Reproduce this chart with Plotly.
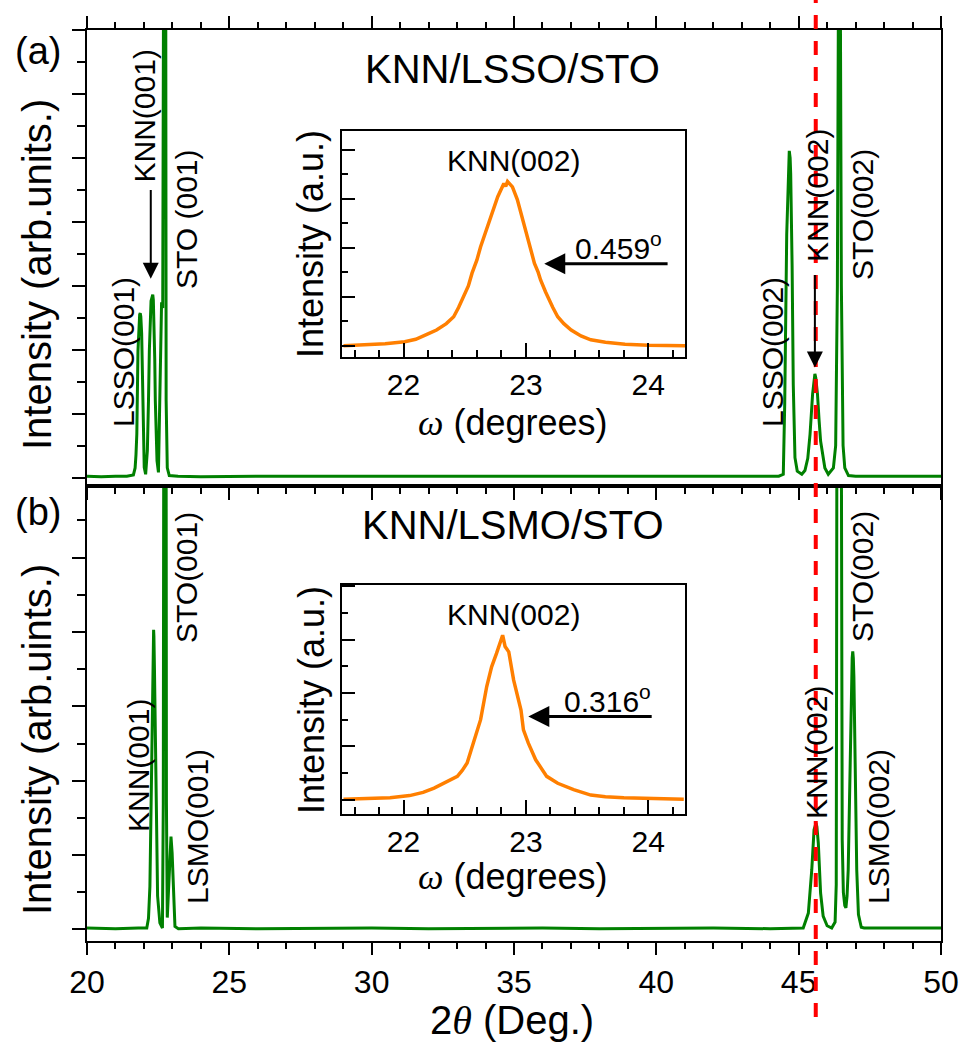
import plotly.graph_objects as go

W, H = 961, 1055

# ---------------- data ----------------
# Panel (a): KNN/LSSO/STO  2theta scan
tt_a = [20.0, 20.5, 21.0, 21.4, 21.63, 21.69, 21.72, 21.75, 21.79, 21.83, 21.85, 21.87, 21.89,
        21.92, 21.94, 21.96, 22.01, 22.06, 22.12, 22.16, 22.19, 22.25, 22.28, 22.31, 22.33,
        22.35, 22.38, 22.40, 22.46, 22.51, 22.56, 22.60, 22.62, 22.66, 22.69, 22.72, 22.75,
        22.78, 22.82, 22.89, 23.2, 24.0, 26.0, 28.0, 30.0, 32.0, 34.0, 36.0, 38.0, 40.0,
        42.0, 43.5, 44.3, 44.46, 44.51, 44.58, 44.64, 44.67, 44.70, 44.72, 44.77, 44.81,
        44.87, 44.95, 45.11, 45.22, 45.32, 45.40, 45.49, 45.54, 45.57, 45.60, 45.66, 45.72,
        45.77, 45.92, 46.04, 46.22, 46.30, 46.36, 46.40, 46.43, 46.46, 46.50, 46.56, 46.62,
        46.75, 47.0, 48.0, 49.0, 50.0]
int_a = [0.02, 0.01, 0.02, 0.02, 0.04, 0.15, 0.35, 0.68, 1.98, 2.46, 2.55, 2.57, 2.52,
         2.25, 1.65, 0.94, 0.16, 0.05, 0.42, 1.20, 1.98, 2.76, 2.84, 2.86, 2.78,
         2.50, 1.85, 1.20, 0.26, 0.08, 1.20, 2.50, 2.74, 2.65, 8.0, 30.0, 8.0,
         1.2, 0.15, 0.03, 0.02, 0.01, 0.02, 0.02, 0.01, 0.02, 0.02, 0.01, 0.02, 0.02,
         0.01, 0.02, 0.02, 0.05, 1.15, 3.8, 4.95, 5.11, 5.0, 4.75, 3.3, 1.46,
         0.31, 0.10, 0.05, 0.11, 0.30, 0.68, 1.31, 1.56, 1.62, 1.56, 1.31, 0.88,
         0.57, 0.15, 0.05, 0.15, 0.5, 3.0, 8.0, 30.0, 8.0, 3.0, 0.5, 0.15,
         0.03, 0.02, 0.02, 0.01, 0.02]

# Panel (b): KNN/LSMO/STO  2theta scan
tt_b = [20.0, 21.0, 21.8, 22.10, 22.16, 22.21, 22.27, 22.31, 22.33, 22.34, 22.35, 22.37,
        22.42, 22.45, 22.48, 22.56, 22.65, 22.68, 22.70, 22.73, 22.76, 22.79, 22.82, 22.87,
        22.92, 22.95, 22.99, 23.04, 23.09, 23.21, 24.0, 26.0, 28.0, 30.0, 32.0, 34.0, 36.0,
        38.0, 40.0, 42.0, 44.0, 45.16, 45.34, 45.46, 45.54, 45.58, 45.61, 45.64, 45.69,
        45.77, 45.86, 46.00, 46.16, 46.28, 46.32, 46.33, 46.34, 46.42, 46.50, 46.51, 46.53,
        46.57, 46.62, 46.66, 46.70, 46.74, 46.80, 46.86, 46.88, 46.90, 46.92, 46.94, 46.98,
        47.04, 47.10, 47.20, 47.3, 48.0, 49.0, 50.0]
int_b = [0.02, 0.01, 0.02, 0.02, 0.15, 0.58, 2.15, 3.49, 3.95, 4.03, 3.95, 3.49,
         1.70, 0.95, 0.45, 0.09, 0.02, 1.7, 8.0, 30.0, 8.0, 1.7, 0.16, 0.58,
         1.16, 1.25, 1.03, 0.36, 0.04, 0.01, 0.02, 0.01, 0.02, 0.02, 0.01, 0.02, 0.02,
         0.01, 0.02, 0.02, 0.01, 0.02, 0.22, 0.80, 1.34, 1.42, 1.43, 1.38, 1.16,
         0.49, 0.18, 0.05, 0.02, 0.1, 0.6, 3.0, 6.5, 30.0, 6.5, 3.0, 1.2,
         0.5, 0.32, 0.29, 0.45, 0.8, 2.2, 3.4, 3.65, 3.74, 3.65, 3.4, 2.2,
         0.8, 0.2, 0.03, 0.02, 0.02, 0.01, 0.02]

# Inset (a): rocking curve of KNN(002)
om_a = [21.51, 21.7, 21.85, 22.01, 22.10, 22.20, 22.27, 22.35, 22.41, 22.45, 22.49, 22.53,
        22.56, 22.60, 22.63, 22.67, 22.71, 22.74, 22.77, 22.82, 22.835, 22.85, 22.89, 22.93,
        22.96, 22.99, 23.01, 23.04, 23.07, 23.10, 23.12, 23.16, 23.19, 23.22, 23.26, 23.31,
        23.37, 23.45, 23.53, 23.65, 23.81, 24.0, 24.3]
rc_a = [0.0, 0.02, 0.04, 0.08, 0.13, 0.24, 0.32, 0.45, 0.59, 0.78, 1.0, 1.22,
        1.48, 1.75, 2.02, 2.30, 2.57, 2.82, 3.04, 3.31, 3.25, 3.35, 3.24, 2.98,
        2.70, 2.45, 2.22, 1.95, 1.68, 1.50, 1.34, 1.10, 0.93, 0.78, 0.59, 0.45,
        0.32, 0.2, 0.12, 0.07, 0.03, 0.01, 0.0]

# Inset (b): rocking curve of KNN(002)
om_b = [21.51, 21.7, 21.89, 22.05, 22.16, 22.25, 22.33, 22.44, 22.48, 22.52, 22.57, 22.60,
        22.63, 22.68, 22.72, 22.76, 22.79, 22.81, 22.83, 22.86, 22.90, 22.96, 22.98, 23.02,
        23.08, 23.12, 23.17, 23.26, 23.32, 23.39, 23.53, 23.65, 23.80, 24.29]
rc_b = [0.01, 0.02, 0.04, 0.08, 0.14, 0.22, 0.31, 0.44, 0.55, 0.69, 1.06, 1.28,
        1.50, 2.12, 2.49, 2.74, 2.93, 3.08, 2.87, 2.77, 2.24, 1.68, 1.31, 1.06,
        0.75, 0.62, 0.44, 0.31, 0.25, 0.19, 0.09, 0.06, 0.04, 0.01]

x_ticks_main = [20, 25, 30, 35, 40, 45, 50]
x_ticks_inset = [22, 23, 24]
fwhm_a = "0.459"
fwhm_b = "0.316"
knn002_line = 45.6

# ---------------- helpers ----------------
def px(x):
    return x / W

def py(y):
    return 1 - y / H

FONT = "Liberation Sans, Arial, sans-serif"
SERIF = "Liberation Serif"
GREEN = "rgb(0,128,0)"
ORANGE = "rgb(255,127,0)"

fig = go.Figure()
fig.add_trace(go.Scatter(x=tt_b, y=int_b, mode="lines", line=dict(color=GREEN, width=3),
                         xaxis="x", yaxis="y", showlegend=False))
fig.add_trace(go.Scatter(x=tt_a, y=int_a, mode="lines", line=dict(color=GREEN, width=3),
                         xaxis="x2", yaxis="y2", showlegend=False))
fig.add_trace(go.Scatter(x=om_a, y=rc_a, mode="lines", line=dict(color=ORANGE, width=3.5),
                         xaxis="x3", yaxis="y3", showlegend=False))
fig.add_trace(go.Scatter(x=om_b, y=rc_b, mode="lines", line=dict(color=ORANGE, width=3.5),
                         xaxis="x4", yaxis="y4", showlegend=False))

xdom = [px(87), px(941)]
common_ax = dict(showgrid=False, zeroline=False, showline=True, linecolor="black",
                 linewidth=2, tickcolor="black", tickwidth=2, automargin=False)

main_x = dict(common_ax, range=[20, 50], tickvals=x_ticks_main, ticks="outside",
              ticklen=12, minor=dict(dtick=1, ticks="outside", ticklen=6,
                                     tickcolor="black", tickwidth=2),
              domain=xdom)
inset_x = dict(common_ax, range=[21.5, 24.3], tickvals=x_ticks_inset, ticks="inside",
               ticklen=14, minor=dict(dtick=0.2, tick0=0, ticks="inside", ticklen=7,
                                      tickcolor="black", tickwidth=2),
               domain=[px(342.3), px(685)], mirror=True,
               tickfont=dict(size=30, color="black", family=FONT))

fig.update_layout(
    template="none",
    width=W, height=H, margin=dict(l=0, r=0, t=0, b=0, pad=0, autoexpand=False),
    paper_bgcolor="white", plot_bgcolor="rgba(0,0,0,0)",
    font=dict(family=FONT, color="black"),
    showlegend=False,
    xaxis=dict(main_x, anchor="y", mirror=True, showticklabels=True,
               tickfont=dict(size=32, color="black", family=FONT)),
    yaxis=dict(common_ax, range=[-0.155, 5.97], dtick=1, tick0=0, ticks="outside",
               ticklen=13, minor=dict(dtick=0.5, ticks="outside", ticklen=8,
                                      tickcolor="black", tickwidth=2),
               showticklabels=False, mirror=True,
               domain=[py(941), py(485.5)], anchor="x"),
    xaxis2=dict(main_x, anchor="y2", mirror="ticks", showticklabels=False, matches="x"),
    yaxis2=dict(common_ax, range=[-0.125, 7.0], dtick=1, tick0=0, ticks="outside",
                ticklen=13, minor=dict(dtick=0.5, ticks="outside", ticklen=8,
                                       tickcolor="black", tickwidth=2),
                showticklabels=False, mirror=True,
                domain=[py(485.5), py(30)], anchor="x2"),
    xaxis3=dict(inset_x, anchor="y3"),
    yaxis3=dict(common_ax, range=[-0.237, 4.38], dtick=1, tick0=0, ticks="inside",
                ticklen=13, minor=dict(dtick=0.5, ticks="inside", ticklen=6,
                                       tickcolor="black", tickwidth=2),
                showticklabels=False, mirror=True,
                domain=[py(357.3), py(131)], anchor="x3"),
    xaxis4=dict(inset_x, anchor="y4"),
    yaxis4=dict(common_ax, range=[-0.27, 4.02], dtick=1, tick0=0, ticks="inside",
                ticklen=13, minor=dict(dtick=0.5, ticks="inside", ticklen=6,
                                       tickcolor="black", tickwidth=2),
                showticklabels=False, mirror=True,
                domain=[py(814.3), py(585)], anchor="x4"),
)

# red dashed reference line through KNN(002)
fig.add_shape(type="line", xref="x", yref="paper", x0=knn002_line, x1=knn002_line,
              y0=py(1017), y1=1.0, line=dict(color="red", width=4, dash="14px,12px"),
              layer="above")

ann = []

def text(x, y, s, size, angle=0, **kw):
    ann.append(dict(x=px(x), y=py(y), xref="paper", yref="paper", text=s,
                    showarrow=False, textangle=angle, xanchor="center", yanchor="middle",
                    font=dict(size=size, color="black", family=FONT), **kw))

# panel labels and titles
text(37.5, 51, "(a)", 38)
text(37.5, 512, "(b)", 38)
text(512.5, 69, "KNN/LSSO/STO", 40)
text(512.5, 525, "KNN/LSMO/STO", 40)
text(37, 275, "Intensity (arb.units.)", 40, -90)
text(37, 740, "Intensity (arb.uints.)", 40, -90)
text(512, 1020, "2<span style='font-family:%s'><i>θ</i></span> (Deg.)" % SERIF, 40)

# peak labels panel (a)
text(123, 352, "LSSO(001)", 30, -90)
text(143.5, 116, "KNN(001)", 30, -90)
text(186, 219, "STO (001)", 30, -90)
text(772, 352, "LSSO(002)", 30, -90)
text(817, 196, "KNN(002)", 30, -90)
text(862, 215, "STO(002)", 30, -90)
# peak labels panel (b)
text(186, 578, "STO(001)", 30, -90)
text(138, 766, "KNN(001)", 30, -90)
text(197, 827, "LSMO(001)", 30, -90)
text(862, 577, "STO(002)", 30, -90)
text(816, 753, "KNN(002)", 30, -90)
text(878, 827, "LSMO(002)", 30, -90)

# insets
for yc, ytitle, ylab in [(244, 422.5, 160), (700, 876, 614)]:
    text(311, yc, "Intensity (a.u.)", 36, -90)
    text(512.5, ytitle,
         "<span style='font-family:%s'><i>ω</i></span> (degrees)" % SERIF, 36)
    text(513, ylab, "KNN(002)", 30)
text(618, 245.7, fwhm_a + "<sup>o</sup>", 30)
text(607, 699, fwhm_b + "<sup>o</sup>", 30)

# arrows
def arrow(xr, yr, x, y, axv, ayv, width, size):
    ann.append(dict(x=x, y=y, ax=axv, ay=ayv, xref=xr, yref=yr, axref=xr, ayref=yr,
                    text="", showarrow=True, arrowhead=2, arrowsize=size,
                    arrowwidth=width, arrowcolor="black", standoff=0))

arrow("x2", "y2", 22.24, 3.11, 22.24, 4.52, 2, 1.6)
arrow("x2", "y2", 45.57, 1.72, 45.57, 3.19, 2, 1.6)
arrow("x3", "y3", 23.15, 1.67, 24.17, 1.67, 3, 1.4)
arrow("x4", "y4", 23.02, 1.56, 24.04, 1.56, 3, 1.4)

fig.update_layout(annotations=ann)
fig.write_html("out.html")
